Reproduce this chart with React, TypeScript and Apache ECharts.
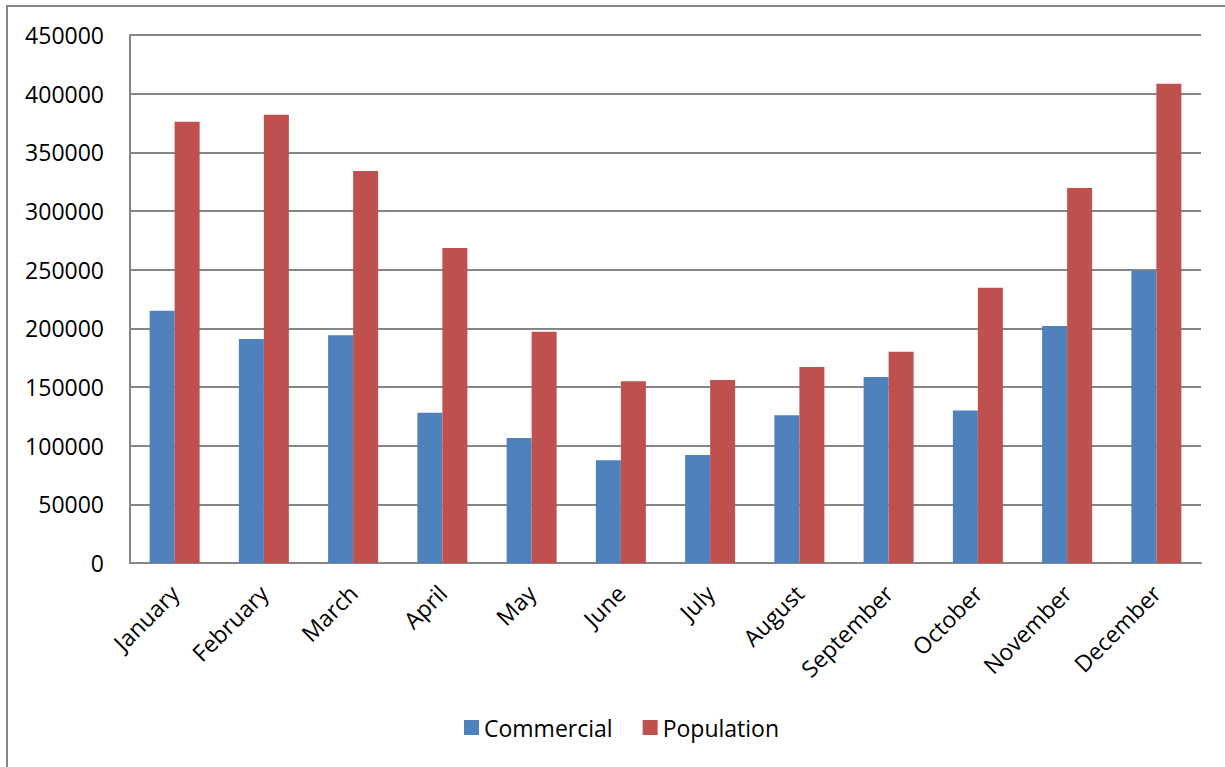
import React, { useEffect, useRef } from "react";
import * as echarts from "echarts";

const months = ["January", "February", "March", "April", "May", "June", "July", "August", "September", "October", "November", "December"];
const commercial = [215000, 191000, 194000, 128000, 106500, 87500, 92000, 126000, 158500, 130000, 202000, 249000];
const population = [376000, 382000, 334000, 268500, 197000, 155000, 156000, 167000, 180000, 234500, 319500, 408500];
const yTicks = { min: 0, max: 450000, interval: 50000 };

export default function App() {
  const ref = useRef<HTMLDivElement>(null);
  useEffect(() => {
    const chart = echarts.init(ref.current!, undefined, { renderer: "svg" });
    const font = "'Open Sans', sans-serif";
    chart.setOption({
      animation: false,
      backgroundColor: "#ffffff",
      graphic: [
        {
          type: "rect",
          shape: { x: 7, y: 6, width: 1300, height: 900 },
          style: { fill: "none", stroke: "#868686", lineWidth: 2 },
          silent: true,
        },
      ],
      grid: { left: 130, top: 35, width: 1071, height: 528, containLabel: false },
      legend: {
        left: 459,
        top: 711,
        itemWidth: 15,
        itemHeight: 15,
        itemGap: 30,
        icon: "rect",
        textStyle: { fontFamily: font, fontSize: 23, color: "#000", padding: [0, 0, 0, 0] },
        data: ["Commercial", "Population"],
      },
      xAxis: {
        type: "category",
        data: months,
        axisLine: { show: true, lineStyle: { color: "#868686", width: 2 } },
        axisTick: { show: false },
        axisLabel: { rotate: 45, margin: 26, fontFamily: font, fontSize: 23, color: "#000", interval: 0 },
      },
      yAxis: {
        type: "value",
        min: yTicks.min,
        max: yTicks.max,
        interval: yTicks.interval,
        axisLine: { show: true, lineStyle: { color: "#868686", width: 2 } },
        axisTick: { show: false },
        splitLine: { show: true, lineStyle: { color: "#868686", width: 2 } },
        axisLabel: { margin: 26, fontFamily: font, fontSize: 23, color: "#000", formatter: (v: number) => String(v) },
      },
      series: [
        {
          name: "Commercial",
          type: "bar",
          data: commercial,
          barWidth: 25,
          barGap: "0%",
          itemStyle: { color: "#4F81BD" },
        },
        {
          name: "Population",
          type: "bar",
          data: population,
          barWidth: 25,
          barGap: "0%",
          itemStyle: { color: "#C0504D" },
        },
      ],
    });
    return () => chart.dispose();
  }, []);
  return <div ref={ref} style={{ position: "fixed", left: 0, top: 0, width: 1225, height: 767 }} />;
}
